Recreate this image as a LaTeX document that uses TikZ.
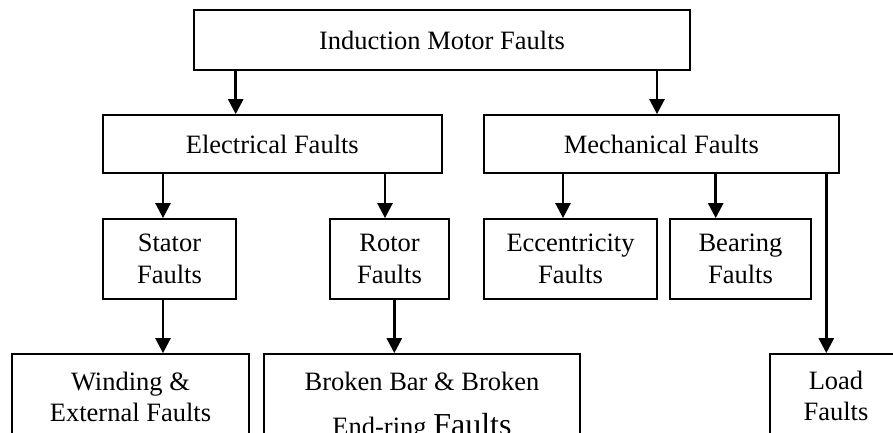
\documentclass[tikz,border=0pt]{standalone}
\usepackage{fontspec}
\setmainfont{Liberation Serif}
\usetikzlibrary{arrows.meta}
\begin{document}
\begin{tikzpicture}[x=1pt,y=-1pt,
  box/.style={draw=black,line width=1.8pt,rectangle,inner sep=0pt,align=center,
    font=\fontsize{26.5}{31.7}\selectfont},
  arr/.style={line width=2.6pt,-{Triangle[length=15pt,width=15pt]}},
  plain/.style={line width=2.6pt}]
\useasboundingbox (0,0) rectangle (893,432);
\clip (0,0) rectangle (893,432);
\node[box,minimum width=496pt,minimum height=60pt] (top) at (442,40) {Induction Motor Faults};
\node[box,minimum width=338.7pt,minimum height=58pt] (elec) at (272.3,144) {Electrical Faults};
\node[box,minimum width=355.3pt,minimum height=58pt] (mech) at (661.3,144) {Mechanical Faults};
\node[box,minimum width=133pt,minimum height=80pt] (stator) at (169.5,259) {Stator\\Faults};
\node[box,minimum width=119pt,minimum height=80pt] (rotor) at (389.5,259) {Rotor\\Faults};
\node[box,minimum width=173.6pt,minimum height=80pt] (ecc) at (570.5,259) {Eccentricity\\Faults};
\node[box,minimum width=141.6pt,minimum height=80pt] (bear) at (740.5,259) {Bearing\\Faults};
\node[box,minimum width=236.4pt,minimum height=86pt] (wind) at (130.5,397) {Winding \&\\External Faults};
\node[box,minimum width=315.4pt,minimum height=105pt] (broken) at (422,406.5) {Broken Bar \& Broken\\[13pt]End-ring {\fontsize{32}{36}\selectfont Faults}};
\node[box,minimum width=131.4pt,minimum height=84pt] (load) at (836,396) {Load\\Faults};
\draw[arr] (235.7,0 |- top.south) -- (235.7,0 |- elec.north);
\draw[arr] (657,0 |- top.south) -- (657,0 |- mech.north);
\draw[arr] (163,0 |- elec.south) -- (163,0 |- stator.north);
\draw[arr] (385,0 |- elec.south) -- (385,0 |- rotor.north);
\draw[arr] (563,0 |- mech.south) -- (563,0 |- ecc.north);
\draw[arr] (715.7,0 |- mech.south) -- (715.7,0 |- bear.north);
\draw[arr] (826.3,0 |- mech.south) -- (826.3,0 |- load.north);
\draw[arr] (163,0 |- stator.south) -- (163,0 |- wind.north);
\draw[arr] (394.3,0 |- rotor.south) -- (394.3,0 |- broken.north);
\end{tikzpicture}
\end{document}
